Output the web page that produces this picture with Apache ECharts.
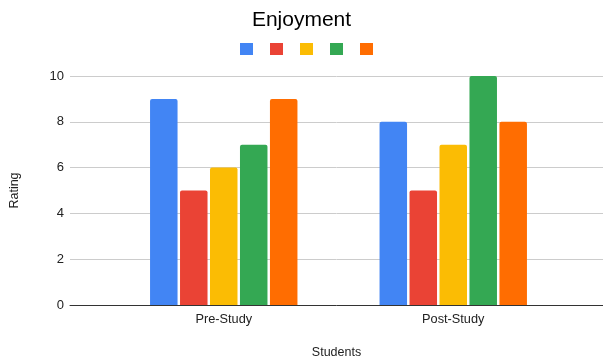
<!DOCTYPE html>
<html><head><meta charset="utf-8">
<script src="https://cdn.jsdelivr.net/npm/echarts@6/dist/echarts.min.js"></script>
<style>html,body{margin:0;padding:0;background:#fff}#c{width:603px;height:364px}</style>
</head><body><div id="c"></div>
<script>
const categories = ['Pre-Study', 'Post-Study'];
const seriesNames = ['S1', 'S2', 'S3', 'S4', 'S5'];
const s1 = [9, 8];
const s2 = [5, 5];
const s3 = [6, 7];
const s4 = [7, 10];
const s5 = [9, 8];
const yTicks = [0, 2, 4, 6, 8, 10];
const colors = ['#4285F4', '#EA4335', '#FBBC04', '#34A853', '#FF6D01'];
const values = [s1, s2, s3, s4, s5];

const font = 'Liberation Sans, Arial, sans-serif';
const chart = echarts.init(document.getElementById('c'));
chart.setOption({
  animation: false,
  textStyle: { fontFamily: font },
  title: { text: 'Enjoyment', left: 'center', top: 5,
    textStyle: { fontSize: 21, fontWeight: 'normal', color: '#000', fontFamily: font } },
  legend: { top: 38, left: 235, itemWidth: 13, itemHeight: 12, itemGap: 17,
    icon: 'rect', formatter: function () { return ''; }, data: seriesNames },
  grid: [
    { left: 69, right: 0, top: 76, bottom: 59 },
    { left: 109, right: 35, top: 76, bottom: 59 }
  ],
  xAxis: [
    { gridIndex: 0, type: 'value', min: 0, max: 1, axisLabel: { show: false }, axisTick: { show: false },
      splitLine: { show: false }, axisLine: { show: true, onZero: false, lineStyle: { color: '#333', width: 1 } },
      name: 'Students', nameLocation: 'middle', nameGap: 41,
      nameTextStyle: { fontSize: 12.5, color: '#222', fontFamily: font } },
    { gridIndex: 1, type: 'category', data: categories, axisLine: { show: false }, axisTick: { show: false },
      axisLabel: { fontSize: 12.75, color: '#222', margin: 8, fontFamily: font } }
  ],
  yAxis: [
    { gridIndex: 0, type: 'value', min: yTicks[0], max: yTicks[yTicks.length - 1], interval: 2,
      axisLine: { show: false }, axisTick: { show: false },
      axisLabel: { fontSize: 13, color: '#222', margin: 6, fontFamily: font },
      splitLine: { lineStyle: { color: '#cccccc' } },
      name: 'Rating', nameLocation: 'middle', nameGap: 49, nameRotate: 90,
      nameTextStyle: { fontSize: 12.5, color: '#222', fontFamily: font } },
    { gridIndex: 1, type: 'value', min: 0, max: 10, show: false }
  ],
  series: values.map((v, i) => ({
    name: seriesNames[i], type: 'bar', xAxisIndex: 1, yAxisIndex: 1, data: v,
    barWidth: 27.5, barGap: '9%', itemStyle: { color: colors[i], borderRadius: [2, 2, 0, 0] }
  })),
  color: colors
});
</script></body></html>
